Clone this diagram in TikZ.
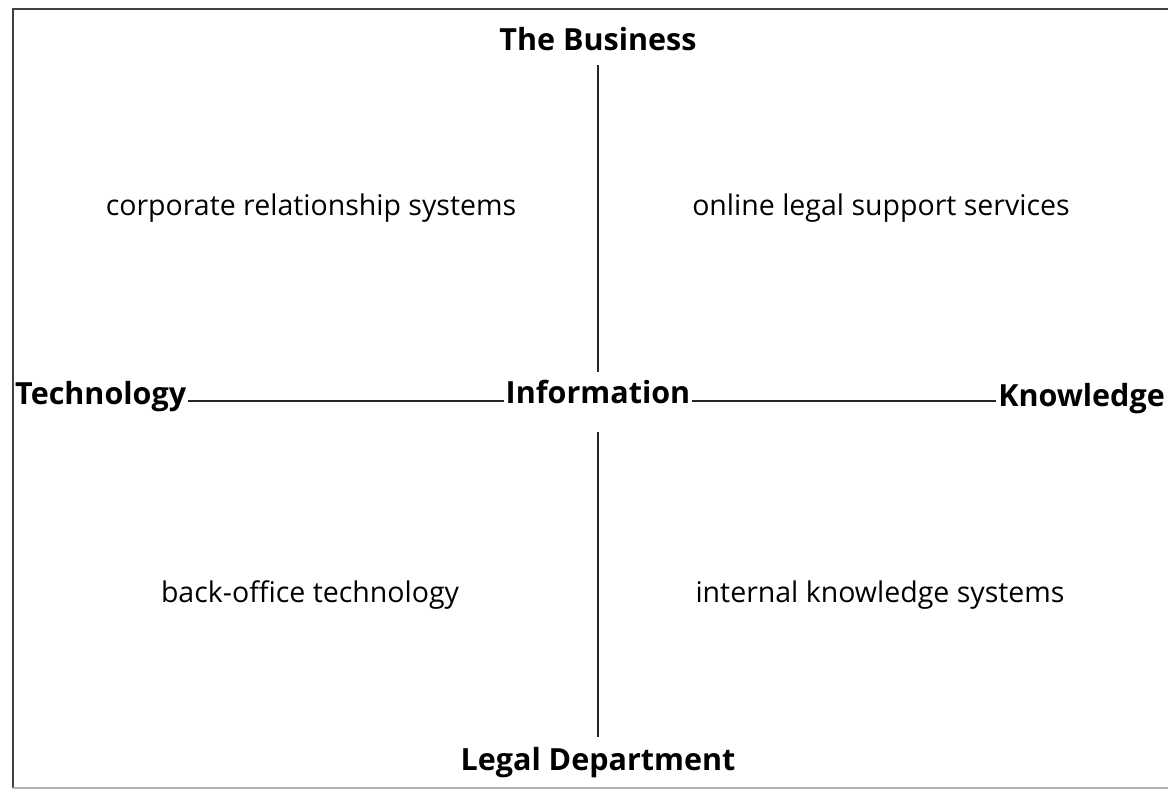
\documentclass[tikz,border=0pt]{standalone}
\usepackage{fontspec}
\setmainfont{Open Sans}
\usetikzlibrary{positioning}
\tikzset{
  axislabel/.style={font=\fontsize{30.5}{34}\selectfont\bfseries,inner sep=2pt,anchor=base},
  quadlabel/.style={font=\fontsize{28.5}{32}\selectfont,inner sep=2pt,anchor=base},
  axisline/.style={line width=2.5pt,black!85}
}
\begin{document}
\begin{tikzpicture}[x=1pt,y=-1pt]
\useasboundingbox (0,0) rectangle (1168,792);
\draw[line width=2.5pt,black!75] (1175,9) -- (13,9) -- (13,788);
\draw[line width=1.5pt,black!30] (13,788) -- (1175,788);
\node[axislabel] (info) at (598,403) {Information};
\node[axislabel] (biz) at (598,51) {The Business};
\node[axislabel] (legal) at (598,770) {Legal Department};
\node[axislabel,anchor=base west] (tech) at (13,404) {Technology};
\node[axislabel,anchor=base east] (know) at (1167,406) {Knowledge};
\node[quadlabel] (crs) at (311,215) {corporate relationship systems};
\node[quadlabel] (olss) at (881,215) {online legal support services};
\node[quadlabel] (bot) at (310,602) {back-office technology};
\node[quadlabel] (iks) at (880,602) {internal knowledge systems};
\draw[axisline] ([yshift=-14pt]biz.base) -- ([yshift=31pt]info.base);
\draw[axisline] ([yshift=-29pt]info.base) -- ([yshift=33pt]legal.base);
\draw[axisline] ([yshift=3pt]tech.base east) -- ([yshift=2pt]info.base west);
\draw[axisline] ([yshift=2pt]info.base east) -- ([yshift=5pt]know.base west);
\end{tikzpicture}
\end{document}
